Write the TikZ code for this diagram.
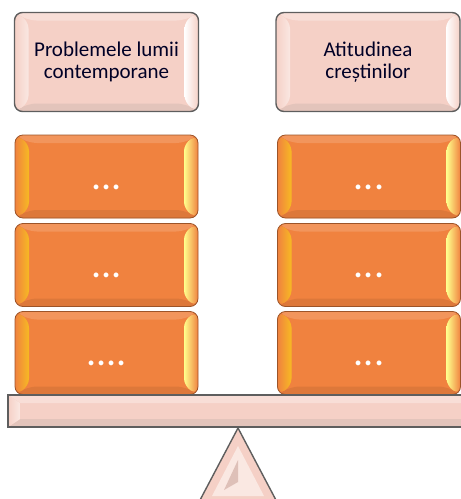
\documentclass[tikz,border=0pt]{standalone}
\usepackage{fontspec}
\setmainfont{Carlito}
\definecolor{roz}{HTML}{F5D0C6}
\definecolor{portocaliu}{HTML}{F0823F}
\definecolor{contur}{HTML}{5E5E5E}
\begin{document}
\begin{tikzpicture}[x=1pt,y=-1pt,
    bevel/.style n args={6}{path picture={
        \coordinate (pSW) at (path picture bounding box.south west);
        \coordinate (pNW) at (path picture bounding box.north west);
        \coordinate (pNE) at (path picture bounding box.north east);
        \coordinate (pSE) at (path picture bounding box.south east);
        \fill[#4] (pNW)--(pNE)--([shift={(-#6,-8pt)}]pNE)--([shift={(#6,-8pt)}]pNW)--cycle;
        \fill[#5] (pSW)--(pSE)--([shift={(-#6,8pt)}]pSE)--([shift={(#6,8pt)}]pSW)--cycle;
        \fill[left color=#1,right color=#2] (pSW)--(pNW)--([shift={(#6,-8pt)}]pNW)--([shift={(#6,8pt)}]pSW)--cycle;
        \fill[left color=#3,right color=#1] (pSE)--(pNE)--([shift={(-#6,-8pt)}]pNE)--([shift={(-#6,8pt)}]pSE)--cycle;
    }},
    titlu/.style={rectangle,rounded corners=8pt,draw=contur,line width=1.4pt,fill=roz,
        minimum width=184pt,minimum height=99pt,align=center,text=black!85!blue,
        font=\fontsize{21}{22}\selectfont,
        bevel={roz}{roz!50!white}{white}{roz!70!white}{roz!85!gray}{14pt}},
    caramida/.style={rectangle,rounded corners=8pt,draw=portocaliu!65!black,line width=0.8pt,
        fill=portocaliu,minimum width=183pt,minimum height=83pt,text=white,
        font=\fontsize{40}{40}\selectfont,text height=25pt,text depth=0pt,
        bevel={portocaliu}{portocaliu!55!yellow}{yellow!45!white}{portocaliu!85!white}{portocaliu!92!black}{14pt}}]
    \useasboundingbox (0,0) rectangle (461,499);
    % titlurile
    \node[titlu] (probleme) at (106.5,62) {Problemele lumii\\contemporane};
    \node[titlu] (atitudine) at (368,62) {Atitudinea\\creștinilor};
    % coloana stanga
    \node[caramida] (st1) at (106.5,176.5) {...};
    \node[caramida] (st2) at (106.5,265) {...};
    \node[caramida] (st3) at (106.5,353) {....};
    % coloana dreapta
    \node[caramida] (dr1) at (369,176.5) {...};
    \node[caramida] (dr2) at (369,265) {...};
    \node[caramida] (dr3) at (369,353) {...};
    % balanta
    \draw[contur,line width=1.4pt,fill=roz,
        bevel={roz}{roz!50!white}{white}{roz!70!white}{roz!85!gray}{12pt}]
        (8,395) rectangle (475,427);
    \coordinate (varf) at (238,428);
    \draw[contur,line width=1.4pt,fill=roz,line join=round] (varf)--(277,502)--(199,502)--cycle;
    \fill[roz!50!white] (238,446)--(264,496)--(212,496)--cycle;
    \fill[roz!80!gray] (238,460)--(238,482)--(224,490)--cycle;
\end{tikzpicture}
\end{document}
